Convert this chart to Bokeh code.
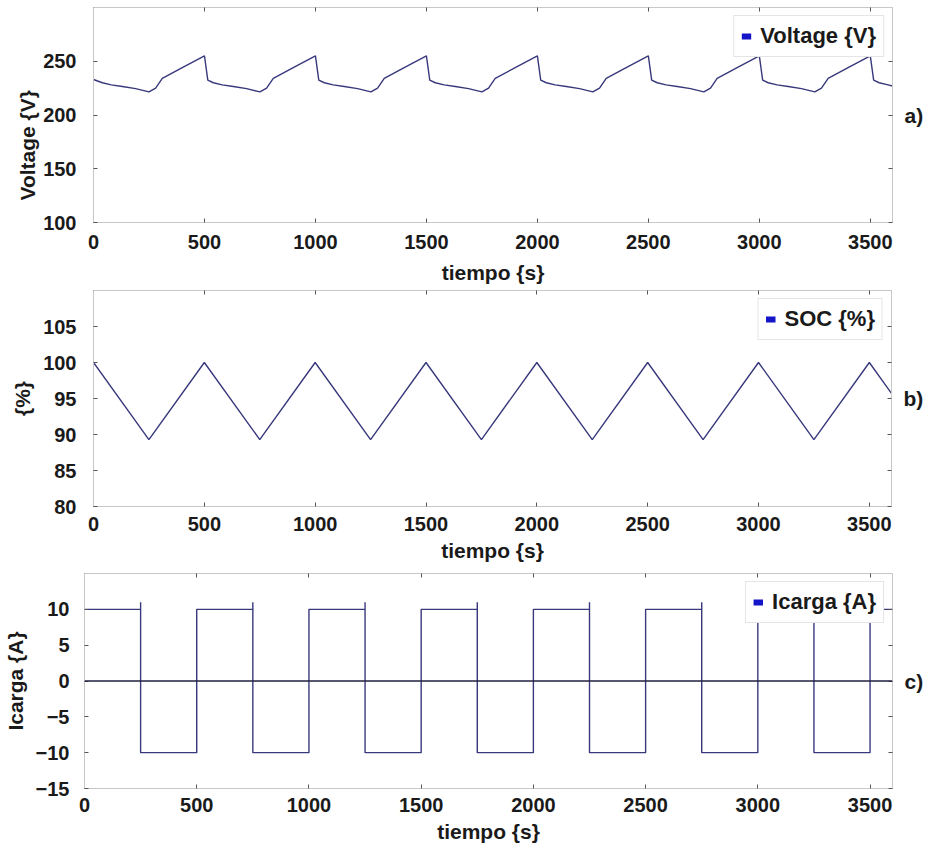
from bokeh.plotting import figure
from bokeh.models import Range1d, LinearAxis, FixedTicker, Legend, LegendItem, Span, ColumnDataSource, Title
from bokeh.embed import file_html
from bokeh.resources import INLINE

# ---------------- data ----------------
x_ticks = [0, 500, 1000, 1500, 2000, 2500, 3000, 3500]

time_v = [0, 40, 80, 130, 190, 250, 280, 310, 400, 500,
          515, 540, 580, 630, 690, 750, 780, 810, 900, 1000,
          1015, 1040, 1080, 1130, 1190, 1250, 1280, 1310, 1400, 1500,
          1515, 1540, 1580, 1630, 1690, 1750, 1780, 1810, 1900, 2000,
          2015, 2040, 2080, 2130, 2190, 2250, 2280, 2310, 2400, 2500,
          2515, 2540, 2580, 2630, 2690, 2750, 2780, 2810, 2900, 3000,
          3015, 3040, 3080, 3130, 3190, 3250, 3280, 3310, 3400, 3500,
          3515, 3540, 3580, 3600]
voltage = [233, 230, 228, 226.5, 224.5, 221.5, 225, 234, 244, 255,
           232.5, 230, 228, 226.5, 224.5, 221.5, 225, 234, 244, 255,
           232.5, 230, 228, 226.5, 224.5, 221.5, 225, 234, 244, 255,
           232.5, 230, 228, 226.5, 224.5, 221.5, 225, 234, 244, 255,
           232.5, 230, 228, 226.5, 224.5, 221.5, 225, 234, 244, 255,
           232.5, 230, 228, 226.5, 224.5, 221.5, 225, 234, 244, 255,
           232.5, 230, 228, 226.5, 224.5, 221.5, 225, 234, 244, 255,
           232.5, 230, 228, 227]
v_ticks = [100, 150, 200, 250]

time_soc = [0, 250, 500, 750, 1000, 1250, 1500, 1750, 2000, 2250, 2500, 2750, 3000, 3250, 3500, 3600]
soc = [100, 89.3, 100, 89.3, 100, 89.3, 100, 89.3, 100, 89.3, 100, 89.3, 100, 89.3, 100, 95.7]
soc_ticks = [80, 85, 90, 95, 100, 105]

time_i = [0,
          250, 250, 250, 500, 500,
          750, 750, 750, 1000, 1000,
          1250, 1250, 1250, 1500, 1500,
          1750, 1750, 1750, 2000, 2000,
          2250, 2250, 2250, 2500, 2500,
          2750, 2750, 2750, 3000, 3000,
          3250, 3250, 3250, 3500, 3500,
          3600]
icarga = [10,
          10, 11, -10, -10, 10,
          10, 11, -10, -10, 10,
          10, 11, -10, -10, 10,
          10, 11, -10, -10, 10,
          10, 11, -10, -10, 10,
          10, 11, -10, -10, 10,
          10, 11, -10, -10, 10,
          10]
i_ticks = [-15, -10, -5, 0, 5, 10]

# ---------------- style ----------------
FONT = "Liberation Sans"
LINE = "#38387c"
LEG = "#1414c8"
FRAME = "#c8c8c8"
TICK = "#555555"
TXT = "#1a1a1a"
W = 926
NAN = float("nan")


def style_axis(ax, ticks, labels=True):
    ax.ticker = FixedTicker(ticks=ticks)
    ax.axis_line_color = FRAME
    ax.major_tick_line_color = TICK
    ax.major_tick_in = 4
    ax.major_tick_out = 0
    ax.minor_tick_line_color = None
    ax.major_label_text_font = FONT
    ax.major_label_text_font_style = "bold"
    ax.major_label_text_font_size = "20px"
    ax.major_label_text_color = TXT
    ax.axis_label_text_font = FONT
    ax.axis_label_text_font_style = "bold"
    ax.axis_label_text_font_size = "21px"
    ax.axis_label_text_color = TXT
    if not labels:
        ax.major_label_overrides = {t: "" for t in ticks}
        ax.major_label_text_font_size = "1px"
        ax.major_label_standoff = 0


def make(height, yr, yticks, ylabel, tag, x, y, leg_label, left, top, bottom,
         y_standoff, x_std, x_lbl_std):
    p = figure(width=W, height=height, x_range=Range1d(0, 3600), y_range=Range1d(*yr),
               output_backend="svg", toolbar_location=None,
               min_border_left=left, min_border_right=10, min_border_top=top,
               min_border_bottom=bottom)
    p.xgrid.visible = False
    p.ygrid.visible = False
    p.outline_line_color = FRAME
    p.background_fill_color = "white"
    p.border_fill_color = "white"

    style_axis(p.xaxis[0], x_ticks)
    p.xaxis[0].axis_label = "tiempo {s}"
    p.xaxis[0].major_label_standoff = x_std
    p.xaxis[0].axis_label_standoff = x_lbl_std
    style_axis(p.yaxis[0], yticks)
    if ylabel:
        p.yaxis[0].axis_label = ylabel
    p.yaxis[0].major_label_standoff = y_standoff
    p.yaxis[0].axis_label_standoff = 6

    top_ax = LinearAxis()
    style_axis(top_ax, x_ticks, labels=False)
    p.add_layout(top_ax, "above")
    right_ax = LinearAxis(axis_label=tag, axis_label_orientation="horizontal")
    style_axis(right_ax, yticks, labels=False)
    right_ax.axis_label_standoff = 12
    p.add_layout(right_ax, "right")

    src = ColumnDataSource(data=dict(x=x, y=y))
    p.line("x", "y", source=src, line_color=LINE, line_width=1.4)
    swatch = p.line(x=[NAN], y=[NAN], line_color=LEG, line_width=6)
    leg = Legend(items=[LegendItem(label=leg_label, renderers=[swatch])], location="top_right")
    leg.margin = 8
    leg.padding = 7
    leg.glyph_width = 10
    leg.glyph_height = 26
    leg.label_height = 26
    leg.label_standoff = 9
    leg.border_line_color = "#cccccc"
    leg.background_fill_color = "white"
    leg.background_fill_alpha = 1
    leg.label_text_font = FONT
    leg.label_text_font_style = "bold"
    leg.label_text_font_size = "22px"
    leg.label_text_color = TXT
    p.add_layout(leg)
    return p


p1 = make(286, (100, 300), v_ticks, None, "a)", time_v, voltage, "Voltage {V}",
          93, 7, 64, 17, 12, 9)
# the voltage label sits lower than the axis centre in the original figure
p1.add_layout(Title(text="Voltage {V}", align="left", offset=22, standoff=4,
                    text_font=FONT, text_font_style="bold", text_font_size="21px",
                    text_color=TXT), "left")

p2 = make(283, (80, 110), soc_ticks, "{%}", "b)", time_soc, soc, "SOC {%}",
          93, 4, 63, 17, 10, 5)
p3 = make(276, (-15, 15), i_ticks, "Icarga {A}", "c)", time_i, icarga, "Icarga {A}",
          82, 4, 57, 15, 9, 5)
p3.add_layout(Span(location=0, dimension="width", line_color="#202040", line_width=1.3))

open("out.html", "w").write(file_html([p1, p2, p3], INLINE))
